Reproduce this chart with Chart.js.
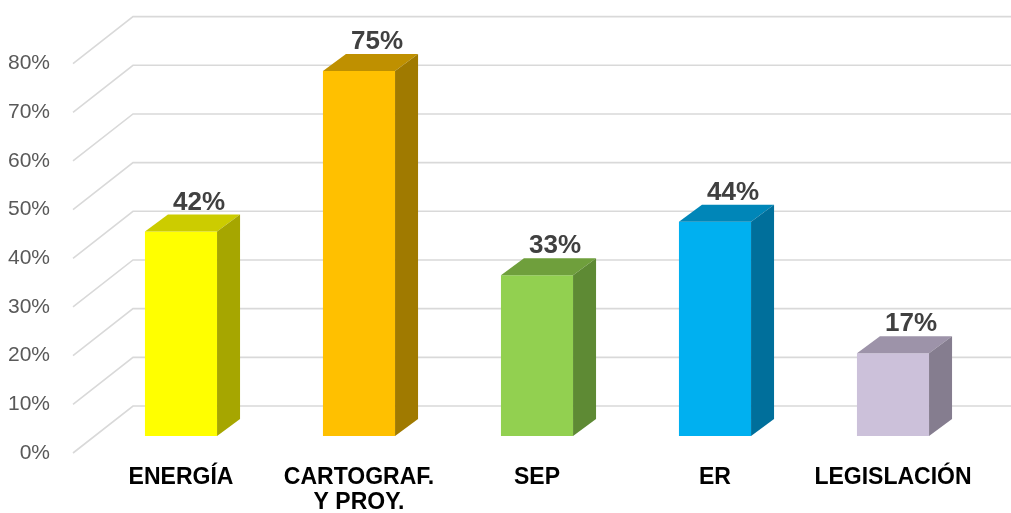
<!DOCTYPE html>
<html>
<head>
<meta charset="utf-8">
<script src="https://cdn.jsdelivr.net/npm/chart.js@4"></script>
<style>
  html, body { margin: 0; padding: 0; background: #fff; }
  #wrap { width: 1011px; height: 513px; }
</style>
</head>
<body>
<div id="wrap"><canvas id="dataChart"></canvas></div>
<script>
const categories = ['ENERGÍA', ['CARTOGRAF.', 'Y PROY.'], 'SEP', 'ER', 'LEGISLACIÓN'];
const values = [0.42, 0.75, 0.33, 0.44, 0.17];
const valueLabels = ['42%', '75%', '33%', '44%', '17%'];

const frontColors = ['#ffff00', '#ffc000', '#92d050', '#00b0f0', '#ccc1da'];
const topColors = ['#cccc00', '#bf9000', '#6f9f3c', '#0086b8', '#9d93a9'];
const sideColors = ['#a6a600', '#a07a00', '#5e8a34', '#006f9b', '#857d8f'];

const FONT = '"Liberation Sans", Arial, sans-serif';
const BAR_DX = 23, BAR_DY = 17;

// back wall + floor lines, drawn under the bars
const gridPlugin = {
    id: 'grid3d',
    beforeDatasetsDraw(chart) {
        const ctx = chart.ctx;
        const y = chart.scales.y;
        const left = chart.chartArea.left;
        ctx.save();
        ctx.strokeStyle = '#d9d9d9';
        ctx.lineWidth = 1.6;
        y.ticks.forEach(t => {
            const py = y.getPixelForValue(t.value);
            ctx.beginPath();
            ctx.moveTo(left - 19, py + 17);
            ctx.lineTo(left + 41, py - 30);
            ctx.lineTo(chart.width, py - 30);
            ctx.stroke();
        });
        ctx.restore();
    },
    afterDatasetsDraw(chart) {
        const ctx = chart.ctx;
        const meta = chart.getDatasetMeta(0);
        ctx.save();
        meta.data.forEach((bar, i) => {
            const l = bar.x - bar.width / 2, r = bar.x + bar.width / 2;
            const top = bar.y, base = bar.base;
            // top face
            ctx.fillStyle = topColors[i];
            ctx.beginPath();
            ctx.moveTo(l, top);
            ctx.lineTo(l + BAR_DX, top - BAR_DY);
            ctx.lineTo(r + BAR_DX, top - BAR_DY);
            ctx.lineTo(r, top);
            ctx.closePath();
            ctx.fill();
            // side face
            ctx.fillStyle = sideColors[i];
            ctx.beginPath();
            ctx.moveTo(r, top);
            ctx.lineTo(r + BAR_DX, top - BAR_DY);
            ctx.lineTo(r + BAR_DX, base - BAR_DY);
            ctx.lineTo(r, base);
            ctx.closePath();
            ctx.fill();
            // value label
            ctx.fillStyle = '#404040';
            ctx.font = 'bold 26px ' + FONT;
            ctx.textAlign = 'center';
            ctx.textBaseline = 'alphabetic';
            ctx.fillText(valueLabels[i], bar.x + 18, top - BAR_DY - 5);
        });
        ctx.restore();
    }
};

const ctx = document.getElementById('dataChart').getContext('2d');
new Chart(ctx, {
    type: 'bar',
    data: {
        labels: categories,
        datasets: [{
            data: values,
            backgroundColor: frontColors,
            borderWidth: 0,
            categoryPercentage: 1,
            barPercentage: 0.405
        }]
    },
    options: {
        responsive: true,
        maintainAspectRatio: false,
        animation: false,
        layout: { padding: { top: 31, right: 29, bottom: 0, left: 0 } },
        plugins: {
            legend: { display: false },
            tooltip: { enabled: false }
        },
        scales: {
            x: {
                grid: { display: false },
                border: { display: false },
                afterFit: s => { s.height = 77; },
                ticks: {
                    color: '#000',
                    padding: 21,
                    maxRotation: 0,
                    autoSkip: false,
                    font: { family: FONT, size: 23, weight: 'bold', lineHeight: 1.1 }
                }
            },
            y: {
                min: 0,
                max: 0.8,
                grid: { display: false },
                border: { display: false },
                afterFit: s => { s.width = 92; },
                ticks: {
                    stepSize: 0.1,
                    padding: 34,
                    labelOffset: 17,
                    color: '#595959',
                    font: { family: FONT, size: 21 },
                    callback: v => Math.round(v * 100) + '%'
                }
            }
        }
    },
    plugins: [gridPlugin]
});
</script>
</body>
</html>
